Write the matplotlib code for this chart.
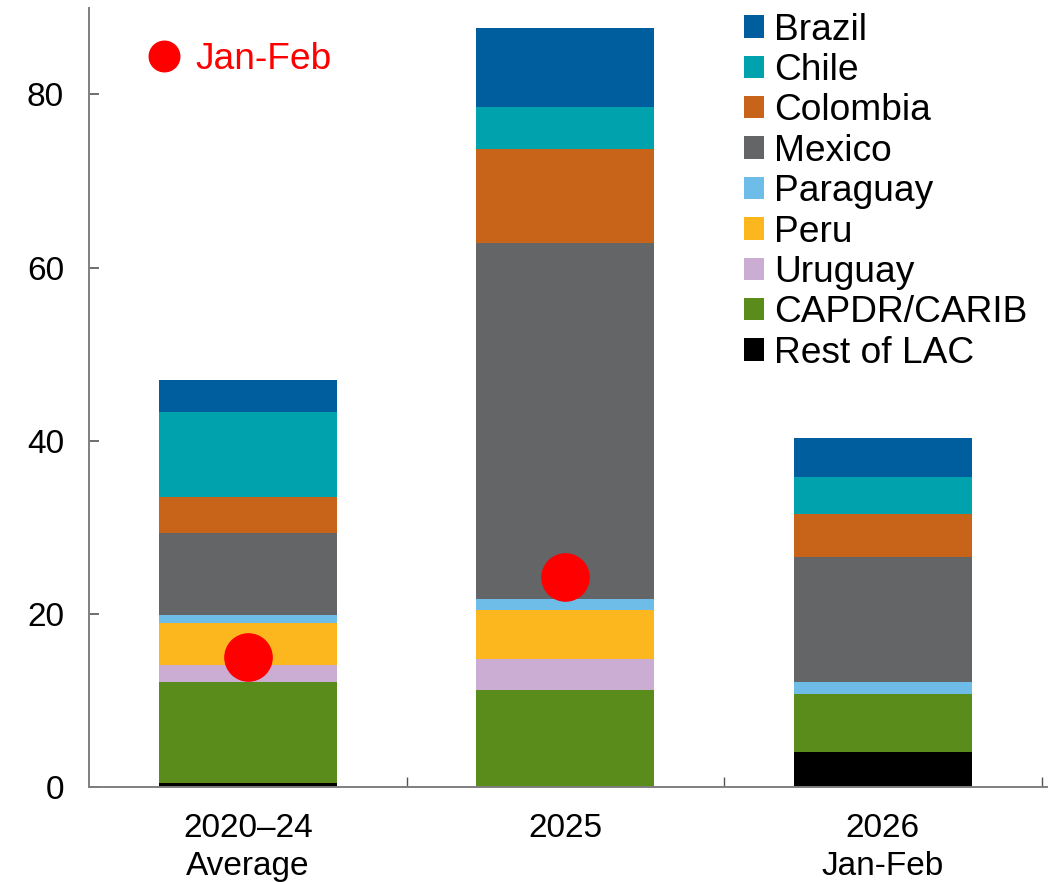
import matplotlib.pyplot as plt
import numpy as np
from matplotlib.lines import Line2D

plt.rcParams['font.family'] = ['Liberation Sans', 'DejaVu Sans']

# data
categories = ["2020\u201324\nAverage", "2025", "2026\nJan-Feb"]
countries = ["Rest of LAC", "CAPDR/CARIB", "Uruguay", "Peru", "Paraguay",
             "Mexico", "Colombia", "Chile", "Brazil"]
rest_of_lac = [0.4, 0.0, 4.0]
capdr_carib = [11.65, 11.2, 6.75]
uruguay = [2.0, 3.55, 0.0]
peru = [4.9, 5.7, 0.0]
paraguay = [0.9, 1.2, 1.4]
mexico = [9.45, 41.2, 14.45]
colombia = [4.15, 10.85, 4.9]
chile = [9.8, 4.85, 4.3]
brazil = [3.8, 9.1, 4.5]
jan_feb = [15.0, 24.2, np.nan]

colors = ["#000000", "#5A8C1C", "#CBADD4", "#FDB71E", "#6EBDE8",
          "#646567", "#C8641A", "#00A3AD", "#005D9E"]

series = [rest_of_lac, capdr_carib, uruguay, peru, paraguay,
          mexico, colombia, chile, brazil]

fig = plt.figure(figsize=(10.48, 8.82), dpi=100)
ax = fig.add_axes([0.085, 0.108, 0.915, 0.883])

x = np.arange(len(categories))
bottom = np.zeros(len(categories))
bars = []
for name, vals, c in zip(countries, series, colors):
    b = ax.bar(x, vals, 0.56, bottom=bottom, color=c, label=name,
               edgecolor='none')
    bars.append(b)
    bottom += np.array(vals)

ax.plot(x, jan_feb, 'o', color='red', markersize=34, linestyle='none',
        zorder=5)

ax.set_ylim(0, 90)
ax.set_xlim(-0.5, 2.52)
ax.set_yticks([0, 20, 40, 60, 80])
ax.set_xticks([0.5, 1.5, 2.5])
ax.set_xticklabels([])
ax.set_xticks(x, minor=True)
ax.set_xticklabels(categories, minor=True)

for side in ['top', 'right']:
    ax.spines[side].set_visible(False)
for side in ['left', 'bottom']:
    ax.spines[side].set_color('#7f7f7f')
    ax.spines[side].set_linewidth(1.4)

ax.tick_params(axis='y', direction='in', length=7, width=1.2, color='#555555',
               labelsize=24, pad=18)
ax.tick_params(axis='x', which='major', direction='in', length=7, width=1,
               color='#555555')
ax.tick_params(axis='x', which='minor', length=0, labelsize=24, pad=19)
for lab in ax.get_xticklabels(minor=True):
    lab.set_linespacing(1.28)

# country legend, Brazil on top
handles = bars[::-1]
labels = countries[::-1]
leg = ax.legend(handles, labels, loc='upper left',
                bbox_to_anchor=(0.667, 1.013), frameon=False, fontsize=26.7,
                handlelength=0.55, handleheight=0.55, handletextpad=0.28,
                labelspacing=0.145, borderaxespad=0)
ax.add_artist(leg)

dot = Line2D([], [], marker='o', color='red', markersize=22, linestyle='none')
leg2 = ax.legend([dot], ["Jan-Feb"], loc='upper left',
                 bbox_to_anchor=(0.047, 0.975), frameon=False, fontsize=26.7,
                 labelcolor='red', handlelength=0.8, handletextpad=0.45,
                 borderaxespad=0)

fig.savefig("out.png", dpi=100)
